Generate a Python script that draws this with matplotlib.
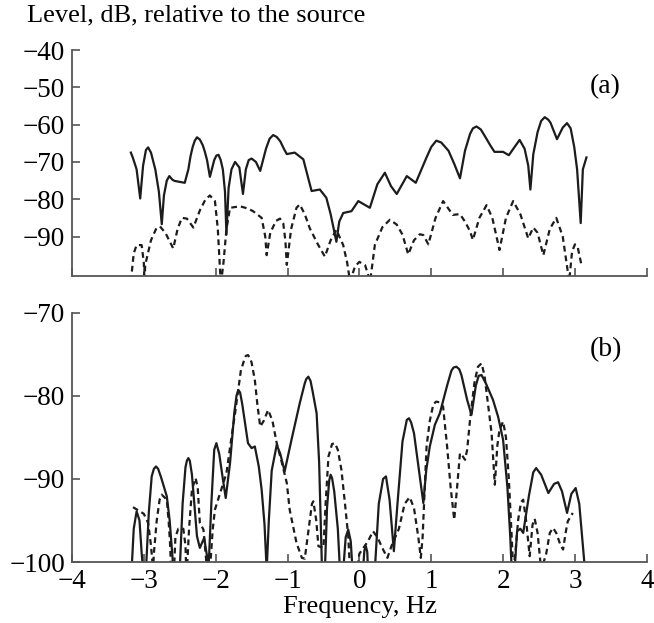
import numpy as np
import matplotlib
matplotlib.use('Agg')
import matplotlib.pyplot as plt

# Panel (a): level in dB, solid and dashed curves
a_solid_x = [-3.18, -3.15, -3.10, -3.05, -3.01, -2.97, -2.94, -2.90, -2.84, -2.79, -2.75, -2.72,
             -2.68, -2.645, -2.60, -2.57, -2.43, -2.38, -2.35, -2.32, -2.29, -2.26, -2.22, -2.18,
             -2.15, -2.12, -2.08, -2.02, -1.99, -1.96, -1.93, -1.90, -1.87, -1.85, -1.82, -1.78,
             -1.73, -1.67, -1.62, -1.58, -1.54, -1.50, -1.44, -1.38, -1.30, -1.25, -1.20, -1.15,
             -1.10, -1.05, -1.01, -0.90, -0.78, -0.665, -0.55, -0.46, -0.40, -0.32, -0.28, -0.225,
             -0.11, -0.015, 0.146, 0.25, 0.355, 0.44, 0.52, 0.66, 0.785, 0.93, 1.00, 1.07, 1.14,
             1.24, 1.32, 1.40, 1.47, 1.54, 1.58, 1.63, 1.69, 1.75, 1.82, 1.88, 2.0, 2.08, 2.16,
             2.23, 2.30, 2.35, 2.38, 2.42, 2.48, 2.53, 2.58, 2.63, 2.66, 2.75, 2.83, 2.89, 2.94,
             2.99, 3.03, 3.08, 3.11, 3.16]
a_solid_y = [-67.5, -69.0, -72.0, -79.8, -71.0, -66.8, -66.1, -67.5, -72.0, -78.0, -86.7, -79.0,
             -75.0, -73.8, -74.8, -75.1, -75.6, -72.0, -68.5, -66.0, -64.3, -63.4, -64.0, -65.5,
             -67.3, -69.5, -74.0, -69.5, -68.3, -68.1, -69.5, -72.0, -78.0, -89.5, -77.0, -72.0,
             -70.0, -71.5, -78.6, -72.0, -69.5, -69.1, -70.0, -72.4, -66.5, -63.8, -62.8, -63.3,
             -64.5, -66.5, -67.9, -67.5, -69.3, -77.8, -77.4, -79.6, -84.0, -91.4, -86.0, -83.7,
             -83.2, -80.5, -82.3, -76.0, -72.9, -76.5, -78.6, -73.8, -75.6, -69.0, -66.0, -64.3,
             -64.8, -67.0, -70.5, -74.4, -67.0, -62.5, -61.0, -60.5, -61.3, -63.2, -65.5, -67.3,
             -67.3, -68.2, -66.0, -64.1, -66.5, -71.0, -77.4, -68.0, -62.0, -59.0, -58.0, -58.7,
             -59.5, -63.9, -60.8, -59.6, -61.0, -66.0, -72.0, -86.4, -72.0, -68.8]

a_dash_x = [-3.18, -3.14, -3.10, -3.03, -3.00, -2.99, -2.98, -2.90, -2.83, -2.775, -2.70, -2.59,
            -2.53, -2.47, -2.40, -2.31, -2.22, -2.14, -2.08, -2.01, -1.97, -1.94, -1.93, -1.91,
            -1.89, -1.85, -1.80, -1.66, -1.55, -1.48, -1.36, -1.31, -1.29, -1.24, -1.16, -1.105,
            -1.06, -1.03, -1.01, -0.95, -0.875, -0.83, -0.76, -0.69, -0.58, -0.48, -0.40, -0.32,
            -0.225, -0.17, -0.13, -0.06, 0.0, 0.08, 0.15, 0.215, 0.32, 0.425, 0.52, 0.60, 0.68,
            0.76, 0.84, 0.89, 0.96, 1.06, 1.165, 1.30, 1.40, 1.47, 1.54, 1.58, 1.67, 1.77, 1.85,
            1.95, 2.04, 2.14, 2.24, 2.35, 2.42, 2.48, 2.56, 2.65, 2.74, 2.83, 2.92, 2.96, 3.00,
            3.04, 3.09]
a_dash_y = [-102.0, -94.5, -92.3, -92.3, -97.0, -102.0, -97.6, -91.0, -88.0, -87.3, -89.0, -93.2,
            -88.0, -85.0, -85.2, -87.6, -83.0, -80.0, -79.0, -80.5, -88.0, -98.6, -102.0, -100.0,
            -96.8, -88.0, -82.3, -81.9, -82.5, -83.2, -85.0, -90.0, -95.0, -89.0, -85.8, -85.2,
            -86.4, -91.0, -97.6, -88.0, -82.3, -81.4, -84.0, -87.8, -92.0, -95.4, -91.0, -88.2,
            -92.3, -97.0, -102.0, -98.0, -96.8, -97.7, -102.0, -92.3, -87.5, -85.5, -86.8, -89.5,
            -94.8, -91.0, -89.4, -89.6, -92.1, -85.0, -80.5, -84.2, -84.0, -86.0, -88.6, -90.9,
            -85.0, -81.6, -85.0, -93.6, -85.0, -80.5, -84.0, -90.5, -87.6, -89.0, -95.0, -88.0,
            -85.0, -90.0, -102.0, -94.0, -92.1, -93.0, -97.6]

# Panel (b)
b_solid_x = [-3.17, -3.14, -3.10, -3.06, -3.03, -3.01,
             -2.97, -2.93, -2.89, -2.86, -2.83, -2.80, -2.76, -2.68, -2.64, -2.60, -2.59,
             -2.50, -2.46, -2.42, -2.40, -2.38, -2.36, -2.33, -2.26, -2.22, -2.16, -2.12, -2.11,
             -2.10, -2.06, -2.02, -1.99, -1.95, -1.90, -1.86, -1.80, -1.74, -1.71, -1.685, -1.66,
             -1.63, -1.55, -1.50, -1.455, -1.40, -1.36, -1.32, -1.29, -1.26, -1.22, -1.15, -1.10,
             -1.04, -0.95, -0.83, -0.76, -0.74, -0.71, -0.68, -0.65, -0.595, -0.56, -0.525, -0.52,
             -0.48, -0.45, -0.42, -0.40, -0.38, -0.35, -0.30, -0.27,
             -0.225, -0.19, -0.155, -0.12, -0.095,
             0.05, 0.07, 0.09, 0.11, 0.12,
             0.215, 0.27, 0.33, 0.37, 0.42, 0.48, 0.53, 0.60, 0.66, 0.69, 0.72, 0.76, 0.83, 0.89,
             0.93, 0.98, 1.05, 1.12, 1.22, 1.28, 1.31, 1.35, 1.39, 1.42, 1.50, 1.56, 1.62, 1.66,
             1.70, 1.76, 1.86, 1.93, 2.0, 2.06, 2.10, 2.12,
             2.16, 2.195, 2.24, 2.28, 2.36, 2.42, 2.46, 2.53, 2.63, 2.71, 2.765, 2.82, 2.89, 2.95,
             3.01, 3.06, 3.10, 3.14]
b_solid_y = [-101, -96.0, -93.9, -95.0, -98.9, -101,
             -101, -94.0, -89.7, -88.8, -88.5, -88.8, -89.8, -92.1, -95.0, -99.5, -101,
             -101, -93.0, -88.6, -87.8, -87.5, -87.8, -89.5, -96.9, -98.3, -97.1, -99.3, -101,
             -101, -93.0, -86.5, -85.7, -87.0, -90.0, -92.3, -88.1, -82.0, -80.0, -79.3, -79.6,
             -81.0, -85.7, -86.3, -86.1, -88.5, -91.3, -95.5, -101, -95.0, -89.0, -85.9, -87.0,
             -89.1, -85.5, -80.9, -78.5, -78.0, -77.7, -78.2, -79.5, -82.1, -88.0, -99.7, -101,
             -101, -93.5, -90.2, -89.5, -89.9, -91.5, -96.0, -101,
             -101, -97.0, -96.1, -97.5, -101,
             -101, -98.6, -98.1, -98.8, -101,
             -101, -93.0, -90.0, -89.7, -92.5, -98.7, -93.0, -85.5, -82.9, -82.7, -83.2, -84.5,
             -89.0, -92.9, -89.0, -86.1, -83.5, -82.1, -78.8, -77.0, -76.6, -76.5, -76.8, -77.5,
             -80.5, -82.3, -78.8, -77.6, -77.5, -78.5, -80.5, -82.5, -85.3, -91.0, -97.0, -101,
             -101, -96.3, -96.0, -96.5, -92.0, -89.2, -88.7, -89.5, -91.7, -90.6, -90.4, -91.5,
             -94.1, -91.8, -91.1, -93.0, -97.0, -101]

b_dash_x = [-3.15, -3.00, -2.94, -2.90, -2.87, -2.86, -2.82, -2.78, -2.75, -2.68, -2.655, -2.635,
            -2.62, -2.58, -2.56, -2.52, -2.45, -2.42, -2.41, -2.40, -2.37, -2.33, -2.28, -2.25,
            -2.22, -2.17, -2.15, -2.12, -2.08, -2.04, -2.01, -1.93, -1.85, -1.78, -1.73, -1.65,
            -1.60, -1.58, -1.55, -1.52, -1.50, -1.455, -1.42, -1.38, -1.33, -1.27, -1.21, -1.15,
            -1.08, -1.01, -0.97, -0.875, -0.80, -0.76, -0.72, -0.66, -0.64, -0.60, -0.57, -0.50,
            -0.47, -0.43, -0.38, -0.34, -0.30, -0.25, -0.20, -0.155, -0.13, -0.03, 0.0, 0.12,
            0.19, 0.25, 0.33, 0.39, 0.45, 0.55, 0.63, 0.70, 0.76, 0.82, 0.855, 0.88, 0.91, 0.935,
            0.98, 1.03, 1.07, 1.12, 1.165, 1.22, 1.27, 1.32, 1.36, 1.40, 1.44, 1.47, 1.50, 1.54,
            1.60, 1.65, 1.70, 1.74, 1.79, 1.84, 1.885, 1.92, 1.95, 2.0, 2.04, 2.08, 2.12, 2.14,
            2.17, 2.21, 2.25, 2.28, 2.32, 2.37, 2.41, 2.44, 2.48, 2.52, 2.53, 2.60, 2.65, 2.695,
            2.74, 2.80, 2.835, 2.87, 2.90, 2.97]
b_dash_y = [-93.4, -94.2, -95.3, -98.0, -101, -99.0, -95.0, -92.5, -91.9, -92.5, -95.0, -97.7,
            -101, -101, -97.0, -96.0, -96.0, -98.0, -101, -101, -96.0, -91.3, -89.9, -91.0,
            -95.3, -96.1, -98.0, -101, -101, -96.0, -93.7, -91.5, -89.3, -85.0, -82.1, -77.0,
            -75.6, -75.2, -75.1, -75.5, -76.0, -78.1, -81.0, -83.7, -83.0, -81.7, -83.0, -85.7,
            -88.0, -90.5, -93.7, -97.7, -99.5, -99.6, -97.0, -93.0, -92.7, -95.0, -98.1, -98.3,
            -93.0, -87.3, -85.8, -85.7, -86.5, -88.9, -93.0, -96.9, -101, -101, -99.0, -97.5,
            -96.3, -97.0, -98.5, -99.5, -98.0, -96.0, -93.0, -92.2, -93.5, -97.0, -99.5, -97.0,
            -91.0, -86.1, -83.0, -81.0, -80.7, -80.8, -81.3, -86.0, -91.0, -94.9, -91.0, -86.9,
            -87.3, -87.7, -86.5, -82.9, -78.5, -76.5, -76.1, -77.5, -81.0, -84.5, -90.7, -86.0,
            -84.1, -83.1, -85.0, -90.0, -97.0, -101, -99.0, -94.9, -92.8, -92.5, -95.0, -99.3,
            -95.5, -94.8, -96.5, -100.0, -101, -99.0, -96.5, -95.9, -96.5, -98.0, -98.5, -96.5,
            -95.1, -94.1]

xticks = [-4, -3, -2, -1, 0, 1, 2, 3, 4]
a_yticks = [-40, -50, -60, -70, -80, -90]
b_yticks = [-70, -80, -90, -100]

line_col = '#1c1c1c'
spine_col = '#555555'


def style_axes(ax):
    for side in ['top', 'right']:
        ax.spines[side].set_visible(False)
    for side in ['left', 'bottom']:
        ax.spines[side].set_color(spine_col)
        ax.spines[side].set_linewidth(1.3)
    ax.tick_params(direction='in', length=6, width=1.2, color=spine_col,
                   labelsize=19.5, pad=5)


def main():
    plt.rcParams['font.family'] = ['Liberation Serif', 'DejaVu Serif']
    fig = plt.figure(figsize=(6.54, 6.23), dpi=100)

    ax1 = fig.add_axes([0.110, 0.5575, 0.879, 0.3622])
    ax1.plot(a_solid_x, a_solid_y, color=line_col, lw=1.6)
    ax1.plot(a_dash_x, a_dash_y, color=line_col, lw=1.6, linestyle=(0, (2.6, 1.8)))
    ax1.set_xlim(-4, 4)
    ax1.set_ylim(-100.5, -40)
    ax1.set_xticks(xticks)
    ax1.set_xticklabels([])
    ax1.set_yticks(a_yticks)
    style_axes(ax1)
    ax1.text(0.927, 0.836, '(a)', transform=ax1.transAxes, fontsize=20,
             ha='center', va='center')

    ax2 = fig.add_axes([0.110, 0.0979, 0.879, 0.4002])
    ax2.plot(b_solid_x, b_solid_y, color=line_col, lw=1.6)
    ax2.plot(b_dash_x, b_dash_y, color=line_col, lw=1.6, linestyle=(0, (2.6, 1.8)))
    ax2.set_xlim(-4, 4)
    ax2.set_ylim(-100, -70)
    ax2.set_xticks(xticks)
    ax2.set_yticks(b_yticks)
    style_axes(ax2)
    ax2.text(0.929, 0.850, '(b)', transform=ax2.transAxes, fontsize=20,
             ha='center', va='center')

    fig.text(27 / 654, 1 - 21 / 623, 'Level, dB, relative to the source',
             fontsize=19, ha='left', va='baseline')
    fig.text(360 / 654, 1 - 613 / 623, 'Frequency, Hz', fontsize=19,
             ha='center', va='baseline')

    fig.savefig('out.png', dpi=100)


if __name__ == "__main__":
    main()
